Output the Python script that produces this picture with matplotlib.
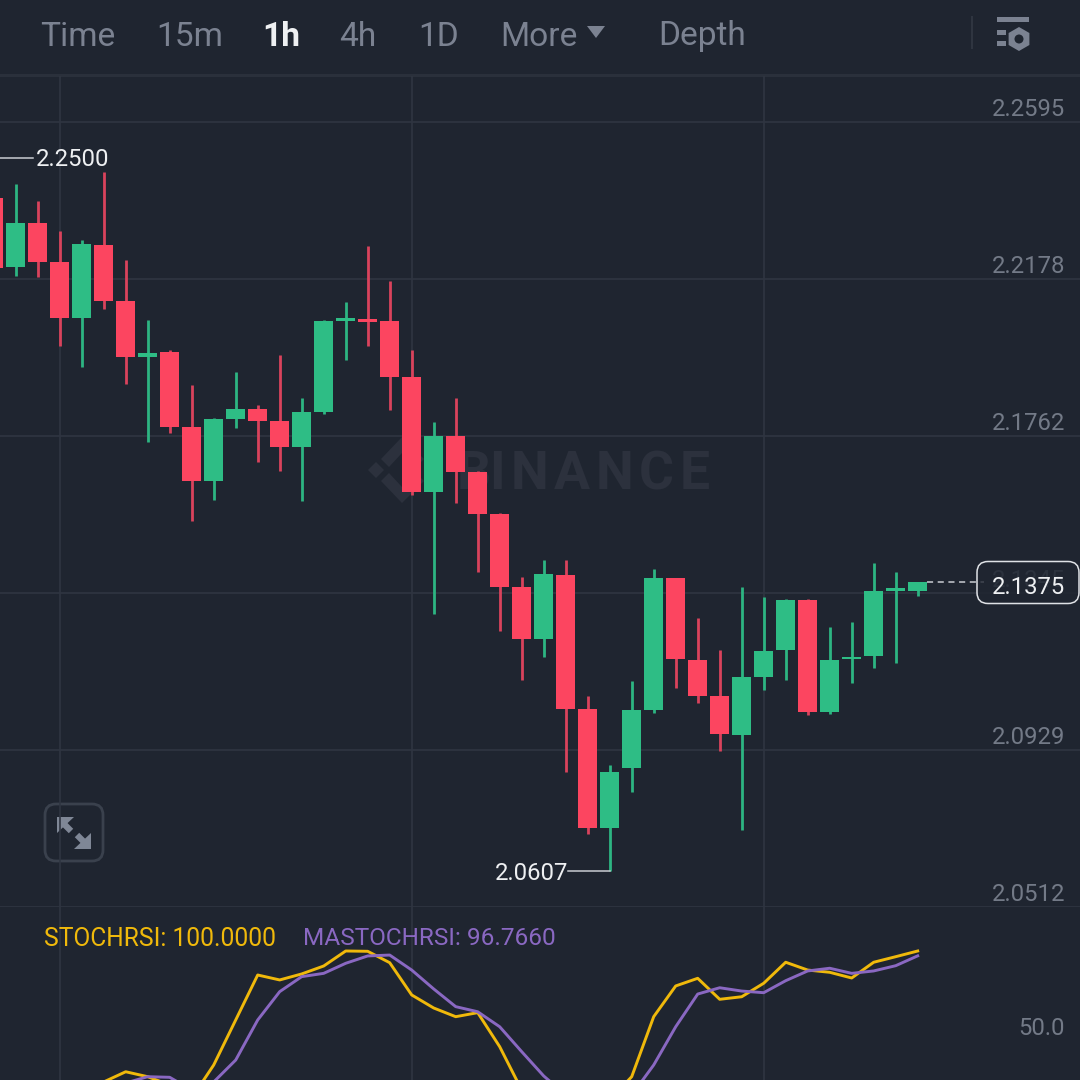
import numpy as np
import matplotlib
matplotlib.use('Agg')
import matplotlib.pyplot as plt
from matplotlib.patches import FancyBboxPatch, Polygon, RegularPolygon, Circle, Rectangle

# candles, first one is cut by the left edge
opens = [2.2393, 2.2209, 2.2326, 2.2223, 2.2075, 2.2269, 2.2120, 2.1972, 2.1984, 2.1785, 2.1642, 2.1807,
         2.1833, 2.1802, 2.1733, 2.1826, 2.2067, 2.2072, 2.2068, 2.1918, 2.1614, 2.1763, 2.1665, 2.1554,
         2.1362, 2.1223, 2.1394, 2.1037, 2.0722, 2.0880, 2.1035, 2.1384, 2.1167, 2.1073, 2.0969, 2.1122,
         2.1193, 2.1327, 2.1029, 2.1169, 2.1177, 2.1351, 2.1351]
highs = [2.2450, 2.2430, 2.2386, 2.2306, 2.2281, 2.2461, 2.2229, 2.2070, 2.1990, 2.1898, 2.1810, 2.1931,
         2.1845, 2.1977, 2.1862, 2.2070, 2.2118, 2.2267, 2.2173, 2.1989, 2.1799, 2.1862, 2.1670, 2.1558,
         2.1387, 2.1433, 2.1433, 2.1072, 2.0889, 2.1112, 2.1409, 2.1385, 2.1278, 2.1194, 2.1362, 2.1335,
         2.1328, 2.1328, 2.1256, 2.1267, 2.1426, 2.1402, 2.1375]
lows = [2.2190, 2.2185, 2.2184, 2.2000, 2.1945, 2.2100, 2.1901, 2.1747, 2.1771, 2.1536, 2.1591, 2.1782,
        2.1694, 2.1670, 2.1588, 2.1821, 2.1964, 2.2001, 2.1830, 2.1605, 2.1290, 2.1585, 2.1400, 2.1244,
        2.1114, 2.1175, 2.0871, 2.0707, 2.0607, 2.0817, 2.1028, 2.1094, 2.1052, 2.0927, 2.0717, 2.1089,
        2.1115, 2.1021, 2.1023, 2.1107, 2.1147, 2.1160, 2.1337]
closes = [2.2208, 2.2327, 2.2224, 2.2074, 2.2270, 2.2120, 2.1972, 2.1983, 2.1786, 2.1642, 2.1806, 2.1833,
          2.1802, 2.1732, 2.1826, 2.2066, 2.2074, 2.2065, 2.1918, 2.1614, 2.1763, 2.1666, 2.1554, 2.1362,
          2.1223, 2.1395, 2.1037, 2.0722, 2.0870, 2.1035, 2.1384, 2.1169, 2.1073, 2.0970, 2.1122, 2.1192,
          2.1327, 2.1029, 2.1168, 2.1176, 2.1351, 2.1358, 2.1375]

nan = float('nan')
stochrsi = [nan, nan, nan, nan, nan, 12.7, 19.5, 16.2, 10.7, 2.0, 24.0, 54.0, 84.0, 80.7, 84.7, 90.0, 100.0,
            99.8, 92.2, 70.7, 62.0, 56.2, 58.9, 36.2, 7.3, nan, nan, nan, 0.7, 16.2, 56.2, 76.7, 81.8, 67.8,
            69.5, 78.5, 92.5, 87.3, 85.8, 82.0, 92.5, 96.2, 100.0]
mastochrsi = [nan, nan, nan, nan, nan, nan, 12.0, 16.2, 15.8, 7.3, 12.7, 27.3, 54.0, 72.9, 82.9, 85.1, 91.8,
              96.7, 97.3, 87.3, 74.7, 62.9, 59.5, 49.5, 32.9, 16.7, 4.0, nan, nan, 4.0, 24.0, 49.5, 71.3,
              75.5, 73.3, 72.2, 80.2, 86.7, 88.5, 85.1, 86.7, 90.2, 96.766]

price_levels = [2.2595, 2.2178, 2.1762, 2.1345, 2.0929, 2.0512]
price_labels = ['2.2595', '2.2178', '2.1762', '2.1345', '2.0929', '2.0512']
time_lines = [3, 19, 35]
menu_items = ['Time', '15m', '1h', '4h', '1D', 'More', 'Depth']
menu_x = [40, 156, 262, 339, 418, 500, 658]
logo_letters = ['B', 'I', 'N', 'A', 'N', 'C', 'E']
logo_x = [474, 497, 530, 572, 615, 656, 695]

BG = '#1f2530'
GRID = '#2f3541'
UP = '#2ebd85'
DOWN = '#fc4560'
UP_WICK = '#2db582'
DOWN_WICK = '#d9435c'
GREY = '#7b8291'
TICK = '#737a87'
WHITE = '#eef0f2'
YELLOW = '#f0b90b'
PURPLE = '#8a68c2'
MARK = '#2c313d'
FONT = 'Roboto'

plt.rcParams['font.family'] = FONT

fig = plt.figure(figsize=(10.8, 10.8), dpi=100, facecolor=BG)

# pixel canvas for the app chrome and watermark, under the charts
back = fig.add_axes([0, 0, 1, 1], zorder=0)
back.set_xlim(0, 1080)
back.set_ylim(1080, 0)
back.axis('off')

back.add_patch(Rectangle((0, 74), 1080, 3, color='#2a303b', lw=0))
for letter, x in zip(logo_letters, logo_x):
    back.text(x, 469, letter, color=MARK, fontsize=38.5, fontweight='bold', ha='center', va='center_baseline')
back.add_patch(Polygon([(368, 470), (376, 462), (384, 470), (376, 478)], color=MARK, lw=0))
back.add_patch(Polygon([(381, 459), (402, 437), (424, 459), (416, 467), (402, 453), (389, 467)], color=MARK, lw=0))
back.add_patch(Polygon([(381, 481), (402, 503), (424, 481), (416, 473), (402, 487), (389, 473)], color=MARK, lw=0))

for name, x in zip(menu_items, menu_x):
    active = name == '1h'
    back.text(x, 36.5, name, color=WHITE if active else GREY, fontsize=24.1, va='center',
              fontweight='bold' if active else 'normal')
back.add_patch(Polygon([(587, 26), (605, 26), (596, 38)], color=GREY, lw=0))
back.add_patch(Rectangle((971, 16), 2, 33, color='#2f3540', lw=0))
back.add_patch(Rectangle((997, 17), 32, 5, color=GREY, lw=0))
back.add_patch(Rectangle((997, 30), 9, 5, color=GREY, lw=0))
back.add_patch(Rectangle((997, 41), 9, 5, color=GREY, lw=0))
back.add_patch(RegularPolygon((1019, 39), 6, radius=12, color=GREY, lw=0))
back.add_patch(Circle((1019, 39), 4.5, color=BG, lw=0))

# expand button
back.add_patch(FancyBboxPatch((45, 804), 58, 57, boxstyle='round,pad=0,rounding_size=11',
                              fc=BG, ec='#3a414d', lw=2))
back.add_patch(Polygon([(57, 817), (74, 817), (57, 833)], color='#7f8796', lw=0))
back.add_patch(Polygon([(91, 849), (74, 849), (91, 833)], color='#7f8796', lw=0))
back.plot([63, 71], [823, 831], color='#7f8796', lw=4.5, solid_capstyle='butt')
back.plot([85, 77], [843, 835], color='#7f8796', lw=4.5, solid_capstyle='butt')

# price chart
ax = fig.add_axes([0, 173 / 1080, 1, 831 / 1080], zorder=1)
ax.patch.set_visible(False)
ax.set_xlim(6.3 / 22, 1086.3 / 22)
ax.set_ylim(2.0512, 2.2717)
for side in ax.spines.values():
    side.set_visible(False)
ax.set_xticks([])
ax.set_yticks([])

for level, label in zip(price_levels, price_labels):
    ax.axhline(level, color=GRID, lw=1.2, zorder=1)
    # the 2.1345 label sits behind the last price badge, only just showing through
    color = '#5f6674' if label == '2.1345' else TICK
    ax.annotate(label, xy=(1065 / 1080, level), xycoords=ax.get_yaxis_transform(), xytext=(0, 9),
                textcoords='offset points', ha='right', va='center', color=color, fontsize=17.2)
for t in time_lines:
    ax.axvline(t, color=GRID, lw=1.2, zorder=1)

idx = np.arange(len(opens))
for i in idx:
    up = closes[i] >= opens[i]
    ax.vlines(i, lows[i], highs[i], color=UP_WICK if up else DOWN_WICK, lw=2.0, zorder=3)
    # dojis still need a visible body
    body = max(abs(closes[i] - opens[i]), 0.0007)
    ax.bar(i, body, bottom=min(opens[i], closes[i]), width=0.88, color=UP if up else DOWN, lw=0, zorder=4)

# high / low markers
ax.plot([-1, 1.8], [2.2500, 2.2500], color='#c9cdd3', lw=1.1, zorder=5)
ax.annotate('2.2500', xy=(1.8, 2.2500), xytext=(2, -1.5), textcoords='offset points', color=WHITE,
            fontsize=17.2, va='center', ha='left')
ax.plot([28, 26.1], [2.0607, 2.0607], color='#c9cdd3', lw=1.1, zorder=5)
ax.annotate('2.0607', xy=(26.1, 2.0607), xytext=(0, -1.5), textcoords='offset points', color=WHITE,
            fontsize=17.2, va='center', ha='right')

# last price
ax.plot([42.4, 45], [closes[-1], closes[-1]], color='#c9cdd3', lw=1.1, ls=(0, (4, 3)), zorder=2)

# stoch rsi panel
sub = fig.add_axes([0, 0, 1, 173 / 1080], zorder=1)
sub.patch.set_visible(False)
sub.set_xlim(6.3 / 22, 1086.3 / 22)
sub.set_ylim(14, 129.33)
for side in sub.spines.values():
    side.set_visible(False)
sub.set_xticks([])
sub.set_yticks([])
for t in time_lines:
    sub.axvline(t, color=GRID, lw=1.2, zorder=1)
sub.plot(idx, stochrsi, color=YELLOW, lw=2.1, zorder=3)
sub.plot(idx, mastochrsi, color=PURPLE, lw=2.1, zorder=4)
sub.annotate('50.0', xy=(1065 / 1080, 50), xycoords=sub.get_yaxis_transform(), xytext=(0, -1.5),
             textcoords='offset points', ha='right', va='center', color=TICK, fontsize=17.2)
sub.text(44 / 1080, 108, 'STOCHRSI: 100.0000', transform=sub.get_yaxis_transform(), color=YELLOW,
         fontsize=17.7, va='center')
sub.text(303 / 1080, 108, 'MASTOCHRSI: 96.7660', transform=sub.get_yaxis_transform(), color=PURPLE,
         fontsize=17.6, va='center')

# badge goes on top of everything
top = fig.add_axes([0, 0, 1, 1], zorder=3)
top.set_xlim(0, 1080)
top.set_ylim(1080, 0)
top.axis('off')
top.add_patch(FancyBboxPatch((977, 561.5), 102, 42, boxstyle='round,pad=0,rounding_size=11',
                             fc=(0.122, 0.145, 0.188, 0.8), ec='#dfe2e6', lw=1.1))
top.text(1065, 587, '2.1375', color=WHITE, fontsize=17.2, ha='right', va='center')

fig.savefig('out.png', dpi=100, facecolor=BG)
